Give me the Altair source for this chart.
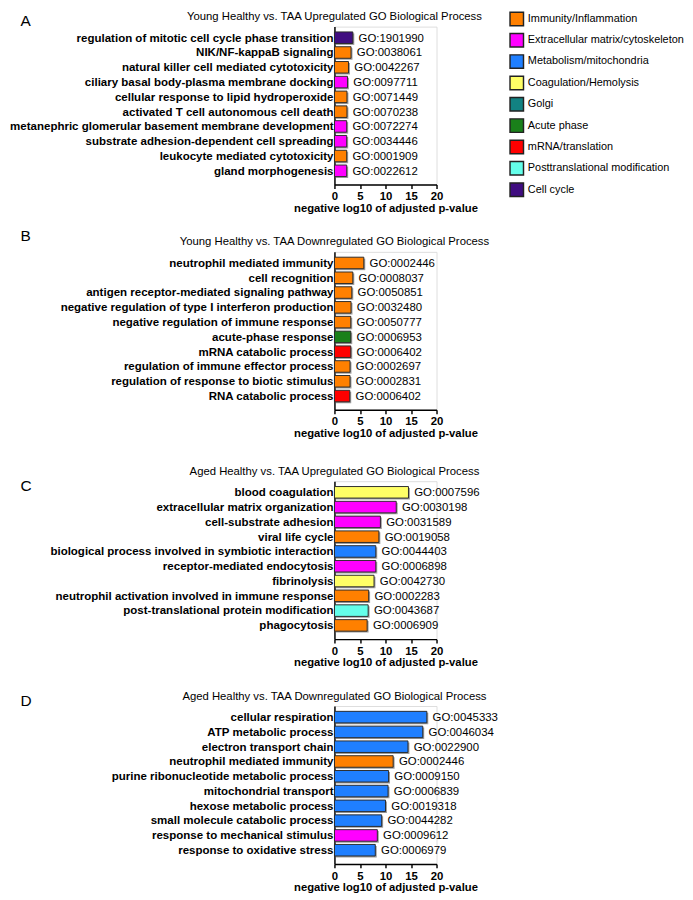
import altair as alt
import pandas as pd

FONT = "Liberation Sans"

legend_cats = ["Immunity/Inflammation", "Extracellular matrix/cytoskeleton",
               "Metabolism/mitochondria", "Coagulation/Hemolysis", "Golgi",
               "Acute phase", "mRNA/translation", "Posttranslational modification",
               "Cell cycle"]
legend_colors = ["#FF8000", "#FF00FF", "#1F7FFF", "#FFFF66", "#128282",
                 "#1A801A", "#FF0000", "#64FFEA", "#400D80"]
IMM, ECM, MET, COA, GOL, ACU, MRNA, PTM, CC = legend_cats

panel_letters = ["A", "B", "C", "D"]
panel_titles = ["Young Healthy vs. TAA Upregulated GO Biological Process",
                "Young Healthy vs. TAA Downregulated GO Biological Process",
                "Aged Healthy vs. TAA Upregulated GO Biological Process",
                "Aged Healthy vs. TAA Downregulated GO Biological Process"]
x_ticks = [0, 5, 10, 15, 20]
x_title = "negative log10 of adjusted p-value"

terms_a = ["regulation of mitotic cell cycle phase transition", "NIK/NF-kappaB signaling",
           "natural killer cell mediated cytotoxicity", "ciliary basal body-plasma membrane docking",
           "cellular response to lipid hydroperoxide", "activated T cell autonomous cell death",
           "metanephric glomerular basement membrane development",
           "substrate adhesion-dependent cell spreading", "leukocyte mediated cytotoxicity",
           "gland morphogenesis"]
ids_a = ["GO:1901990", "GO:0038061", "GO:0042267", "GO:0097711", "GO:0071449",
         "GO:0070238", "GO:0072274", "GO:0034446", "GO:0001909", "GO:0022612"]
vals_a = [3.6, 3.25, 2.75, 2.55, 2.45, 2.45, 2.4, 2.4, 2.4, 2.4]
cats_a = [CC, IMM, IMM, ECM, IMM, IMM, ECM, ECM, IMM, ECM]

terms_b = ["neutrophil mediated immunity", "cell recognition",
           "antigen receptor-mediated signaling pathway",
           "negative regulation of type I interferon production",
           "negative regulation of immune response", "acute-phase response",
           "mRNA catabolic process", "regulation of immune effector process",
           "regulation of response to biotic stimulus", "RNA catabolic process"]
ids_b = ["GO:0002446", "GO:0008037", "GO:0050851", "GO:0032480", "GO:0050777",
         "GO:0006953", "GO:0006402", "GO:0002697", "GO:0002831", "GO:0006402"]
vals_b = [5.75, 3.6, 3.4, 3.25, 3.2, 3.2, 3.2, 3.05, 3.05, 3.0]
cats_b = [IMM, IMM, IMM, IMM, IMM, ACU, MRNA, IMM, IMM, MRNA]

terms_c = ["blood coagulation", "extracellular matrix organization", "cell-substrate adhesion",
           "viral life cycle", "biological process involved in symbiotic interaction",
           "receptor-mediated endocytosis", "fibrinolysis",
           "neutrophil activation involved in immune response",
           "post-translational protein modification", "phagocytosis"]
ids_c = ["GO:0007596", "GO:0030198", "GO:0031589", "GO:0019058", "GO:0044403",
         "GO:0006898", "GO:0042730", "GO:0002283", "GO:0043687", "GO:0006909"]
vals_c = [14.5, 12.1, 9.0, 8.7, 8.1, 8.1, 7.75, 6.7, 6.6, 6.4]
cats_c = [COA, ECM, ECM, IMM, MET, ECM, COA, IMM, PTM, IMM]

terms_d = ["cellular respiration", "ATP metabolic process", "electron transport chain",
           "neutrophil mediated immunity", "purine ribonucleotide metabolic process",
           "mitochondrial transport", "hexose metabolic process",
           "small molecule catabolic process", "response to mechanical stimulus",
           "response to oxidative stress"]
ids_d = ["GO:0045333", "GO:0046034", "GO:0022900", "GO:0002446", "GO:0009150",
         "GO:0006839", "GO:0019318", "GO:0044282", "GO:0009612", "GO:0006979"]
vals_d = [18.1, 17.3, 14.4, 11.5, 10.6, 10.5, 10.0, 9.25, 8.4, 8.0]
cats_d = [MET, MET, MET, IMM, MET, MET, MET, MET, ECM, MET]

PW, PH = 106, 164
YEXT = 326

color_scale = alt.Scale(domain=legend_cats, range=legend_colors)


def panel_layers(i, terms, ids, vals, cats, letter_y):
    df = pd.DataFrame({"term": terms, "go": ids, "value": vals, "category": cats})
    y = alt.Y("term:N", sort=terms,
              scale=alt.Scale(paddingInner=0.22, paddingOuter=0.45, align=0.40),
              axis=alt.Axis(title=None, ticks=False, labelFontWeight="bold",
                            labelFontSize=11.95, labelPadding=1.5, labelLimit=0,
                            minExtent=YEXT, maxExtent=YEXT, domainWidth=1.5,
                            domainColor="black", labelColor="black", labelFont=FONT))
    x = alt.X("value:Q", scale=alt.Scale(domain=[0, 20], nice=False),
              axis=alt.Axis(values=x_ticks, title=x_title, grid=False, tickSize=4,
                            tickWidth=1.5, tickColor="black", domainWidth=1.5,
                            domainColor="black", labelFontWeight="bold", labelFontSize=11.8,
                            labelPadding=2.7, labelFlush=False, labelOverlap=False,
                            labelColor="black", labelFont=FONT, titleFont=FONT,
                            titleFontWeight="bold", titleFontSize=11.7, titlePadding=0,
                            titleColor="black"))
    color = alt.Color("category:N", scale=color_scale, legend=None)
    base = alt.Chart(df)
    shadow = base.mark_bar(color="#9c9c9c", xOffset=1.5, yOffset=1.5).encode(x=x, y=y)
    bars = base.mark_bar(stroke="#2a2a2a", strokeWidth=1, opacity=1).encode(x=x, y=y, color=color)
    labels = base.mark_text(align="left", baseline="middle", dx=6, fontSize=11.85,
                            font=FONT, color="black").encode(x=x, y=y, text="go:N")
    letter = alt.Chart(pd.DataFrame({"letter": [panel_letters[i]]})).mark_text(
        align="left", baseline="top", fontSize=16, font=FONT, color="black"
    ).encode(x=alt.value(-326), y=alt.value(letter_y), text="letter:N")
    title = alt.Chart(pd.DataFrame({"title": [panel_titles[i]]})).mark_text(
        align="center", baseline="middle", fontSize=11.75, font=FONT, color="black"
    ).encode(x=alt.value(0), y=alt.value(-10.75), text="title:N")
    return alt.layer(shadow, bars, labels, letter, title)


# legend (drawn from the legend category list through point + colour scales)
legend_df = pd.DataFrame({"category": legend_cats})
ly = alt.Y("category:N", sort=legend_cats,
           scale=alt.Scale(type="point", domain=legend_cats, range=[-8.0, 169.3], padding=0),
           axis=None)
leg_sq = alt.Chart(legend_df).mark_square(size=196, filled=True, stroke="#222222",
                                          strokeWidth=1.5, opacity=1).encode(
    x=alt.value(189.3), y=ly, color=alt.Color("category:N", scale=color_scale, legend=None))
leg_tx = alt.Chart(legend_df).mark_text(align="left", baseline="middle", fontSize=11.3,
                                        font=FONT, color="black").encode(
    x=alt.value(200.8), y=ly, text="category:N")
legend_layer = alt.layer(leg_sq, leg_tx)

pA = alt.layer(panel_layers(0, terms_a, ids_a, vals_a, cats_a, -13.7), legend_layer).resolve_scale(
    y="independent").properties(width=PW, height=PH)
pB = panel_layers(1, terms_b, ids_b, vals_b, cats_b, -24.75).properties(width=PW, height=PH)
pC = panel_layers(2, terms_c, ids_c, vals_c, cats_c, -2.6).properties(width=PW, height=PH)
pD = panel_layers(3, terms_d, ids_d, vals_d, cats_d, -12.6).properties(width=PW, height=PH)

top = alt.vconcat(pA, pB, spacing=12.9)
bottom = alt.vconcat(pC, pD, spacing=21.45)
chart = alt.vconcat(top, bottom, spacing=26.05).properties(
    padding={"top": -17, "left": 1, "right": 0, "bottom": 0}
).configure_view(stroke=None).configure(font=FONT)

chart.save("out.html", embed_options={"renderer": "svg", "actions": False})
